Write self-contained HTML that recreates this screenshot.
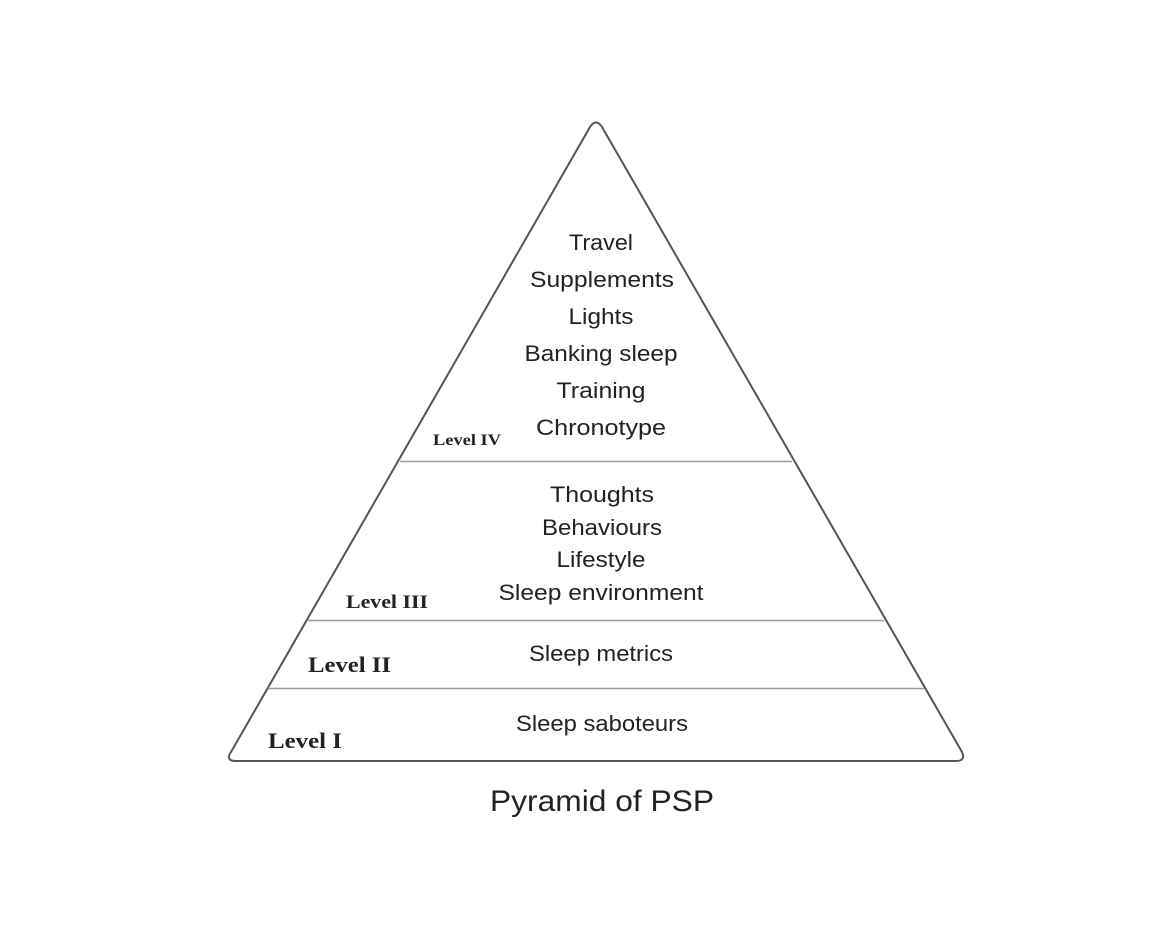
<!DOCTYPE html>
<html><head><style>
html,body{margin:0;padding:0;background:#fff;}
svg{display:block;}
.t{font-family:"Liberation Sans",sans-serif;font-size:22px;fill:#222;text-anchor:middle;}
.l{font-family:"Liberation Serif",serif;font-weight:bold;fill:#222;}
</style></head><body>
<svg width="1162" height="934" viewBox="0 0 1162 934">
<path d="M590 127 Q596 118 602 127 L962 752 Q966 761 956 761 L236 761 Q225 761 231 752 Z" fill="none" stroke="#555" stroke-width="2" stroke-linejoin="round"/>
<line x1="400" y1="461.5" x2="792" y2="461.5" stroke="#999" stroke-width="1.5"/>
<line x1="308" y1="620.5" x2="884" y2="620.5" stroke="#999" stroke-width="1.5"/>
<line x1="268" y1="688.5" x2="924" y2="688.5" stroke="#999" stroke-width="1.5"/>
<text class="t" x="601" y="250" textLength="64" lengthAdjust="spacingAndGlyphs">Travel</text>
<text class="t" x="602" y="287" textLength="144" lengthAdjust="spacingAndGlyphs">Supplements</text>
<text class="t" x="601" y="324" textLength="65" lengthAdjust="spacingAndGlyphs">Lights</text>
<text class="t" x="601" y="361" textLength="153" lengthAdjust="spacingAndGlyphs">Banking sleep</text>
<text class="t" x="601" y="398" textLength="89" lengthAdjust="spacingAndGlyphs">Training</text>
<text class="t" x="601" y="435" textLength="130" lengthAdjust="spacingAndGlyphs">Chronotype</text>
<text class="t" x="602" y="502" textLength="104" lengthAdjust="spacingAndGlyphs">Thoughts</text>
<text class="t" x="602" y="535" textLength="120" lengthAdjust="spacingAndGlyphs">Behaviours</text>
<text class="t" x="601" y="567" textLength="89" lengthAdjust="spacingAndGlyphs">Lifestyle</text>
<text class="t" x="601" y="600" textLength="205" lengthAdjust="spacingAndGlyphs">Sleep environment</text>
<text class="t" x="601" y="661" textLength="144" lengthAdjust="spacingAndGlyphs">Sleep metrics</text>
<text class="t" x="602" y="731" textLength="172" lengthAdjust="spacingAndGlyphs">Sleep saboteurs</text>
<text class="l" x="433" y="445" font-size="16" textLength="68" lengthAdjust="spacingAndGlyphs">Level IV</text>
<text class="l" x="346" y="608" font-size="19" textLength="82" lengthAdjust="spacingAndGlyphs">Level III</text>
<text class="l" x="308" y="672" font-size="22" textLength="83" lengthAdjust="spacingAndGlyphs">Level II</text>
<text class="l" x="268" y="748" font-size="22" textLength="74" lengthAdjust="spacingAndGlyphs">Level I</text>
<text class="t" x="602" y="811" style="font-size:30px" textLength="224" lengthAdjust="spacingAndGlyphs">Pyramid of PSP</text>
</svg>
</body></html>
